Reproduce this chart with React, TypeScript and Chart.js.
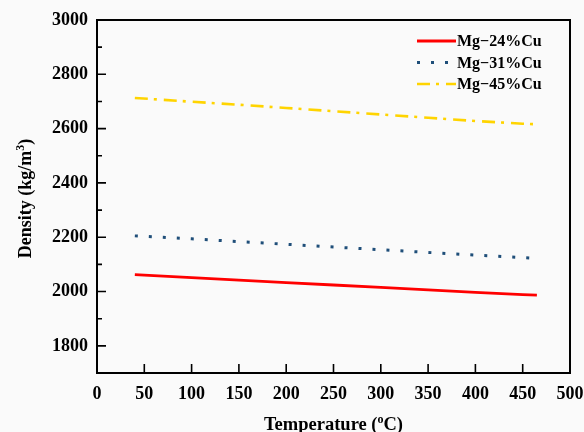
import React, { useEffect, useRef } from 'react';
import { Chart, registerables } from 'chart.js';
Chart.register(...registerables);

const temperatures = [40, 100, 150, 200, 250, 300, 350, 400, 450, 465];
const mg24 = [2062, 2051, 2042, 2033, 2024, 2015, 2006, 1997, 1989, 1987];
const mg31 = [2205, 2194, 2184, 2174, 2164, 2154, 2144, 2134, 2125, 2122];
const mg45 = [2713, 2699, 2688, 2676, 2664, 2652, 2640, 2628, 2618, 2616];
const seriesNames = ['Mg\u221224%Cu', 'Mg\u221231%Cu', 'Mg\u221245%Cu'];
const xTicks = [0, 50, 100, 150, 200, 250, 300, 350, 400, 450, 500];
const yTicks = [1800, 2000, 2200, 2400, 2600, 2800, 3000];
const yMinorTicks = [1900, 2100, 2300, 2500, 2700, 2900];

const FONT = "'Liberation Serif', 'Times New Roman', serif";

const decorPlugin = {
  id: 'decor',
  beforeDraw(chart: any) {
    const ctx = chart.ctx;
    ctx.save();
    ctx.fillStyle = '#fafafa';
    ctx.fillRect(0, 0, chart.width, chart.height);
    ctx.restore();
  },
  afterDraw(chart: any) {
    const ctx = chart.ctx;
    const a = chart.chartArea;
    const xs = chart.scales.x;
    const ys = chart.scales.y;
    ctx.save();
    ctx.strokeStyle = '#000';
    ctx.lineWidth = 2;
    ctx.strokeRect(a.left, a.top, a.right - a.left, a.bottom - a.top);
    ctx.lineWidth = 1.6;
    ctx.beginPath();
    xTicks.forEach((v) => {
      const px = xs.getPixelForValue(v);
      if (px <= a.left + 1 || px >= a.right - 1) return;
      ctx.moveTo(px, a.bottom);
      ctx.lineTo(px, a.bottom - 9);
    });
    yTicks.forEach((v) => {
      const py = ys.getPixelForValue(v);
      if (py <= a.top + 1) return;
      ctx.moveTo(a.left, py);
      ctx.lineTo(a.left + 9, py);
    });
    yMinorTicks.forEach((v) => {
      const py = ys.getPixelForValue(v);
      ctx.moveTo(a.left, py);
      ctx.lineTo(a.left + 5, py);
    });
    ctx.stroke();

    // legend
    chart.data.datasets.forEach((ds: any, i: number) => {
      const y = a.top + 21 + i * 21.5;
      const x0 = a.right - 153;
      const x1 = a.right - 114;
      ctx.save();
      ctx.strokeStyle = ds.borderColor;
      ctx.lineWidth = ds.borderWidth;
      ctx.setLineDash(ds.borderDash || []);
      ctx.beginPath();
      ctx.moveTo(x0, y);
      ctx.lineTo(x1, y);
      ctx.stroke();
      ctx.restore();
      ctx.fillStyle = '#000';
      ctx.font = `bold 16px ${FONT}`;
      ctx.textAlign = 'left';
      ctx.textBaseline = 'middle';
      ctx.fillText(ds.label, x1 + 1, y + 1);
    });

    // axis titles with superscripts
    const drawParts = (parts: [string, boolean][], size: number) => {
      let total = 0;
      const widths = parts.map(([t, sup]) => {
        ctx.font = `bold ${sup ? Math.round(size * 0.65) : size}px ${FONT}`;
        const w = ctx.measureText(t).width;
        total += w;
        return w;
      });
      let x = -total / 2;
      parts.forEach(([t, sup], k) => {
        ctx.font = `bold ${sup ? Math.round(size * 0.65) : size}px ${FONT}`;
        ctx.fillText(t, x, sup ? -size * 0.4 : 0);
        x += widths[k];
      });
    };
    ctx.fillStyle = '#000';
    ctx.textAlign = 'left';
    ctx.textBaseline = 'alphabetic';
    ctx.save();
    ctx.translate((a.left + a.right) / 2, 430);
    drawParts([['Temperature (', false], ['o', true], ['C)', false]], 18.5);
    ctx.restore();
    ctx.save();
    ctx.translate(31, (a.top + a.bottom) / 2 + 2);
    ctx.rotate(-Math.PI / 2);
    drawParts([['Density (kg/m', false], ['3', true], [')', false]], 18);
    ctx.restore();
    ctx.restore();
  },
};

export default function App() {
  const ref = useRef<HTMLCanvasElement | null>(null);
  useEffect(() => {
    document.body.style.margin = '0';
    const tickFont = { family: FONT, size: 18, weight: 'bold' as const };
    const chart = new Chart(ref.current as HTMLCanvasElement, {
      type: 'line',
      data: {
        datasets: [
          {
            label: seriesNames[0],
            data: temperatures.map((t, i) => ({ x: t, y: mg24[i] })),
            borderColor: '#ff0000',
            borderWidth: 2.8,
            pointRadius: 0,
          },
          {
            label: seriesNames[1],
            data: temperatures.map((t, i) => ({ x: t, y: mg31[i] })),
            borderColor: '#1f4e79',
            borderWidth: 3,
            borderDash: [3, 11],
            pointRadius: 0,
          },
          {
            label: seriesNames[2],
            data: temperatures.map((t, i) => ({ x: t, y: mg45[i] })),
            borderColor: '#ffd400',
            borderWidth: 2.6,
            borderDash: [13, 6, 3, 7],
            pointRadius: 0,
          },
        ],
      },
      options: {
        animation: false,
        responsive: true,
        maintainAspectRatio: false,
        layout: { padding: { top: 20, right: 14, left: 0, bottom: 0 } },
        plugins: { legend: { display: false }, tooltip: { enabled: false } },
        scales: {
          x: {
            type: 'linear',
            min: 0,
            max: 500,
            afterBuildTicks: (s: any) => {
              s.ticks = xTicks.map((v) => ({ value: v }));
            },
            afterFit: (s: any) => {
              s.height = 59;
              s.paddingLeft = 0;
              s.paddingRight = 0;
            },
            ticks: {
              font: tickFont,
              color: '#000',
              padding: 11,
              maxRotation: 0,
              autoSkip: false,
              callback: (v: any) => String(v),
            },
            grid: { display: false, drawTicks: false },
            border: { display: false },
          },
          y: {
            type: 'linear',
            min: 1700,
            max: 3000,
            afterBuildTicks: (s: any) => {
              s.ticks = yTicks.map((v) => ({ value: v }));
            },
            afterFit: (s: any) => {
              s.width = 97;
              s.paddingTop = 0;
              s.paddingBottom = 0;
            },
            ticks: {
              font: tickFont,
              color: '#000',
              padding: 9,
              autoSkip: false,
              callback: (v: any) => String(v),
            },
            grid: { display: false, drawTicks: false },
            border: { display: false },
          },
        },
      },
      plugins: [decorPlugin],
    });
    return () => chart.destroy();
  }, []);
  return (
    <div style={{ width: 584, height: 432, position: 'relative' }}>
      <canvas ref={ref} />
    </div>
  );
}
